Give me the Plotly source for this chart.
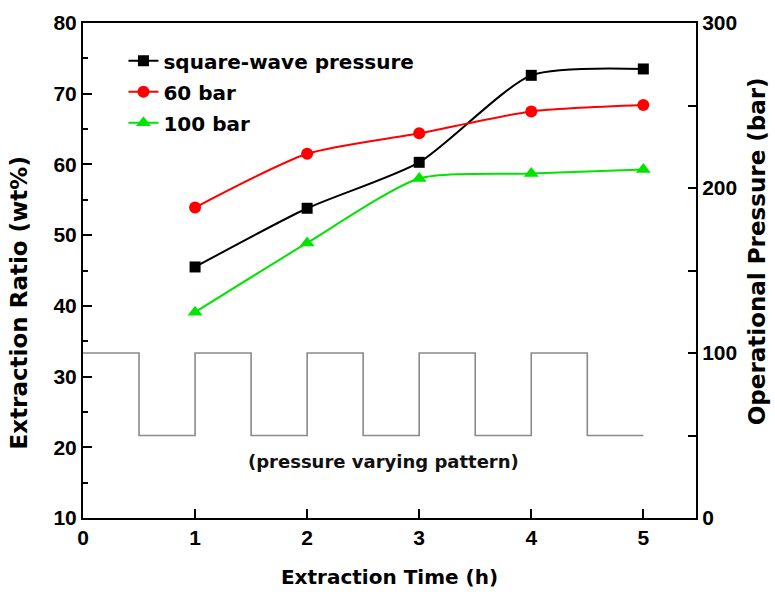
import plotly.graph_objects as go

# Extraction time (h) and extraction ratio (wt%) for each operating mode
time_h = [1, 2, 3, 4, 5]
square_wave = [45.5, 53.8, 60.3, 72.6, 73.5]
bar_60 = [53.9, 61.5, 64.4, 67.5, 68.4]
bar_100 = [39.1, 48.9, 58.0, 58.7, 59.3]

# Square-wave pressure schedule: level (bar) held from each switch time
switch_time_h = [0, 0.5, 1, 1.5, 2, 2.5, 3, 3.5, 4, 4.5, 5]
pressure_level_bar = [100, 50, 100, 50, 100, 50, 100, 50, 100, 50, 50]

left_ticks = [10, 20, 30, 40, 50, 60, 70, 80]
right_ticks = [0, 100, 200, 300]
x_ticks = [0, 1, 2, 3, 4, 5]

TICK_FONT = dict(family="Liberation Sans", size=21, color="black", weight=700)
TITLE_FONT = "DejaVu Sans, sans-serif"

fig = go.Figure()

fig.add_trace(go.Scatter(
    x=switch_time_h, y=pressure_level_bar, yaxis="y2", mode="lines",
    line=dict(color="#8a8a8a", width=1.6, shape="hv"),
    showlegend=False, hoverinfo="skip",
))

series = [
    ("square-wave pressure", square_wave, "black", "square", 11),
    ("60 bar", bar_60, "#ff0000", "circle", 12),
    ("100 bar", bar_100, "#00e400", "triangle-up", 13),
]
for i, (name, vals, color, sym, size) in enumerate(series):
    fig.add_trace(go.Scatter(
        x=time_h, y=vals, name=name, mode="lines+markers",
        line=dict(color=color, width=2, shape="spline", smoothing=0.65),
        marker=dict(symbol=sym, size=size, color=color),
        legendgroup=f"g{i}",
    ))

fig.add_annotation(
    x=2.68, y=18, xref="x", yref="y", text="(pressure varying pattern)",
    showarrow=False, font=dict(family=TITLE_FONT, size=18, color="#111", weight="bold"),
)

# Vertical axis titles
fig.add_annotation(
    x=-0.104, y=0.434, xref="paper", yref="paper", text="Extraction Ratio (wt%)",
    textangle=-90, showarrow=False, xanchor="center", yanchor="middle",
    font=dict(family=TITLE_FONT, size=23, color="black", weight="bold"),
)
fig.add_annotation(
    x=1.0995, y=0.539, xref="paper", yref="paper", text="Operational Pressure (bar)",
    textangle=-90, showarrow=False, xanchor="center", yanchor="middle",
    font=dict(family=TITLE_FONT, size=23, color="black", weight="bold"),
)

fig.update_layout(
    width=775, height=592,
    margin=dict(l=83, r=79, t=23, b=74),
    paper_bgcolor="white", plot_bgcolor="white",
    xaxis=dict(
        range=[0, 5.47], tickvals=x_ticks, ticks="inside", ticklen=9, tickwidth=2,
        tickcolor="black", showline=True, linecolor="black", linewidth=2,
        mirror=True, showgrid=False, zeroline=False, tickfont=TICK_FONT,
        automargin=False,
        title=dict(text="Extraction Time (h)", standoff=22,
                   font=dict(family=TITLE_FONT, size=20, color="black", weight="bold")),
    ),
    yaxis=dict(
        range=[10, 80], tickvals=left_ticks, ticks="inside", ticklen=9, tickwidth=2,
        tickcolor="black", showline=True, linecolor="black", linewidth=2,
        showgrid=False, zeroline=False, tickfont=TICK_FONT, automargin=False,
        minor=dict(dtick=5, ticks="inside", ticklen=5, tickwidth=2, tickcolor="black", showgrid=False),
    ),
    yaxis2=dict(
        range=[0, 300], tickvals=right_ticks, overlaying="y", side="right",
        ticks="inside", ticklen=8, tickwidth=2, tickcolor="black",
        showline=True, linecolor="black", linewidth=2, showgrid=False, zeroline=False,
        tickfont=TICK_FONT, automargin=False,
        minor=dict(dtick=50, ticks="inside", ticklen=8, tickwidth=2, tickcolor="black", showgrid=False),
    ),
    legend=dict(
        x=0.066, y=0.963, xanchor="left", yanchor="top", bgcolor="rgba(0,0,0,0)",
        font=dict(family=TITLE_FONT, size=20, color="black", weight="bold"),
        tracegroupgap=2, itemwidth=30,
    ),
)

fig.write_html("out.html")
